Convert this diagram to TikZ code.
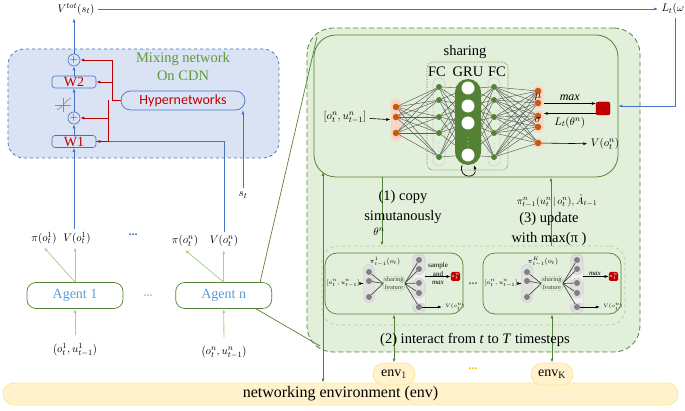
\documentclass[tikz,border=0pt]{standalone}
\usepackage{fontspec}
\setmainfont{Liberation Serif}
\newfontfamily\hypfont{Carlito}
\usetikzlibrary{arrows.meta,positioning}
\definecolor{mixblue}{HTML}{4472C4}
\definecolor{mixfill}{HTML}{DAE3F3}
\definecolor{dkgreen}{HTML}{548235}
\definecolor{ltgreen}{HTML}{A9D18E}
\definecolor{bggreen}{HTML}{E2EFDA}
\definecolor{hred}{HTML}{C00000}
\definecolor{envfill}{HTML}{FFF2CC}
\definecolor{envline}{HTML}{FFE699}
\definecolor{agtblue}{HTML}{5B9BD5}
\definecolor{mixtext}{HTML}{5E9A3C}
\definecolor{nodeor}{HTML}{C55A11}
\definecolor{nodepink}{HTML}{F8D5C0}
\definecolor{wire}{HTML}{595959}
\definecolor{dotor}{HTML}{FFC000}
\pgfdeclarelayer{back}
\pgfdeclarelayer{wires}
\pgfsetlayers{back,wires,main}
\newcommand{\fsz}[1]{\fontsize{#1}{#1}\selectfont}

\begin{document}
\begin{tikzpicture}[x=1pt,y=-1pt,>={Latex[length=4pt,width=3pt]},
  bl/.style={draw=mixblue,line width=0.6pt},
  hr/.style={draw=hred,line width=0.9pt},
  lg/.style={draw=ltgreen,line width=0.8pt},
  dg/.style={draw=dkgreen,line width=0.8pt},
  wr/.style={draw=wire,line width=0.45pt},
  wbox/.style={draw=mixblue,line width=0.6pt,rounded corners=3pt,minimum width=44pt,minimum height=12pt,inner sep=0pt,text=hred,font=\fsz{14}},
  plusc/.style={draw=mixblue,line width=0.6pt,circle,minimum size=12pt,inner sep=0pt,text=hred,font=\fsz{11}},
  agent/.style={draw=dkgreen,line width=0.7pt,rounded corners=9pt,minimum width=96pt,minimum height=26pt,text=agtblue,font=\fsz{14}},
  envbox/.style={draw=envline,fill=envfill,line width=0.8pt,rounded corners=11pt,minimum height=22pt,font=\fsz{16}},
  fccap/.style={draw=black!18,line width=0.6pt,rounded corners=6pt,minimum width=12pt,inner sep=0pt},
  pkcap/.style={draw=nodepink!60!white,fill=nodepink,rounded corners=4pt,minimum width=11pt,inner sep=0pt},
  gycap/.style={draw=black!22,fill=black!12,rounded corners=5pt,minimum width=11pt,inner sep=0pt},
  gnode/.style={circle,fill=dkgreen,minimum size=6pt,inner sep=0pt},
  onode/.style={circle,fill=nodeor,minimum size=6.5pt,inner sep=0pt},
  cnode/.style={circle,fill=white,minimum size=13pt,inner sep=0pt},
  snode/.style={circle,fill=black!50,minimum size=6pt,inner sep=0pt},
  lbl/.style={font=\fontsize{14.5}{20}\selectfont},
  ml/.style={font=\fsz{11}}]
\useasboundingbox (0,0) rectangle (685,411);
\begin{pgfonlayer}{back}
  \node[draw=mixblue,dashed,line width=0.8pt,fill=mixfill,rounded corners=16pt,minimum width=271pt,minimum height=109pt] (mix) at (143.5,103.5) {};
  \node[draw=dkgreen,dash pattern=on 5pt off 3pt,line width=0.8pt,fill=bggreen,rounded corners=26pt,minimum width=333pt,minimum height=324pt] (outer) at (473.5,190) {};
  \node[draw=dkgreen,line width=0.8pt,rounded corners=22pt,minimum width=304pt,minimum height=142pt] (up) at (466,106) {};
  \node[draw=ltgreen,dashed,line width=0.7pt,rounded corners=16pt,minimum width=303pt,minimum height=79pt] (low) at (473.5,285.5) {};
  \node[draw=dkgreen,line width=0.7pt,rounded corners=12pt,minimum width=138pt,minimum height=61pt] (sb1) at (394,283.5) {};
  \node[draw=dkgreen,line width=0.7pt,rounded corners=12pt,minimum width=138pt,minimum height=61pt] (sb2) at (552,283.5) {};
  \node[draw=dkgreen,densely dotted,line width=0.6pt,rounded corners=6pt,minimum width=81pt,minimum height=108pt] (shr) at (467.5,116) {};
  \node[pkcap,minimum height=42pt] (icap) at (396,120) {};
  \node[fccap,minimum height=88pt] (fcap) at (439,122) {};
  \node[fccap,minimum height=88pt] (hcap) at (494,122) {};
  \node[draw=black!20,densely dotted,rounded corners=5pt,minimum width=16pt,minimum height=66pt] (ocap) at (538,115) {};
  \node[pkcap,minimum height=22pt] (mucap) at (538,97) {};
  \node[pkcap,minimum height=22pt] (sgcap) at (538,121.5) {};
  \node[pkcap,minimum height=9pt] (vcap) at (538,143) {};
\end{pgfonlayer}

\node[ml] (vtot) at (76,9) {$V^{tot}(s_t)$};
\node[ml,anchor=west] (lt) at (658,9) {$L_t(\omega)$};
\node[plusc] (p2) at (74,60) {$+$};
\node[wbox] (w2) at (74,82) {W2};
\node[plusc] (p1) at (74,118) {$+$};
\node[wbox] (w1) at (74,141.5) {W1};
\node[draw=mixblue,line width=0.7pt,rounded corners=9.5pt,minimum width=124pt,minimum height=19pt,text=hred,font=\hypfont\fsz{14}] (hyp) at (183,100.5) {Hypernetworks};
\node[text=mixtext,align=center,font=\fontsize{14.5}{18}\selectfont] (mixt) at (183,67) {Mixing network\\On CDN};
\draw[black!45,line width=0.6pt] (55,105) -- (71,105) (63,98) -- (63,112);
\draw[black!45,line width=0.6pt] (57,110) .. controls (64,106) and (65,101) .. (71,98);
\node[ml] (st) at (243,195) {$s_t$};

\draw[bl,->] (p2) -- (p2 |- vtot.south);
\draw[bl,->] (w2) -- (p2);
\draw[bl,->] (p1) -- (w2);
\draw[bl,->] (w1) -- (p1);
\draw[bl,->] (vtot.east) -- (vtot.east -| lt.west);
\draw[bl,->] (lt.south) |- (up.east);
\draw[bl,->] (st.north) -- (st.north |- hyp.south);

\node[agent] (a1) at (75,295.5) {Agent 1};
\node[agent,right=52pt of a1] (an) {Agent n};
\node[text=ltgreen,font=\bfseries\fsz{12}] (adots) at (148,296) {...};
\node[ml] (pi1) at (44,238) {$\pi(o_t^1)$};
\node[ml] (v1) at (77,238) {$V(o_t^1)$};
\node[ml] (pin) at (185,241) {$\pi(o_t^n)$};
\node[ml] (vn) at (224,241) {$V(o_t^n)$};
\node[text=mixblue,font=\bfseries\fsz{12}] (pdots) at (133,235) {...};
\node[ml] (in1) at (75,350) {$\left(o_t^1,u_{t-1}^1\right)$};
\node[ml] (inn) at (224,352) {$\left(o_t^n,u_{t-1}^n\right)$};

\draw[bl,->] (w1 |- v1.north) -- (w1);
\draw[bl] (vn.north) |- (w1.east);
\coordinate (hb) at (112,100.5);
\coordinate (hc) at (108,100.5);
\draw[hr] (hyp) -- (hb);
\draw[hr,->] (hb) |- (p2);
\draw[hr,->] (hb |- w2) -- (w2);
\draw[hr,->] (hc) |- (p1);
\draw[hr,->] (hc) |- (w1);

\draw[lg,->] (a1.north) -- (a1.north |- v1.south);
\draw[lg,->] (a1.north) -- (pi1.south);
\draw[lg,->] (an.north) -- (an.north |- vn.south);
\draw[lg,->] (an.north) -- (pin.south);
\draw[lg,->,shorten <=5pt] (in1) -- (a1);
\draw[lg,->,shorten <=5pt] (inn) -- (an);

\coordinate (c1) at (317,37);
\coordinate (c2) at (320,346);
\draw[dg,line width=0.7pt] ([xshift=-12pt]an.north east) -- (c1);
\draw[dg,line width=0.7pt] ([xshift=-16pt]an.south east) -- (c2);

\node[ml] (xin) at (345,117) {$[o_t^n,u_{t-1}^n]$};
\foreach \y [count=\i] in {107,117,133} \node[onode] (ni\i) at (396,\y) {};
\foreach \y [count=\i] in {87,100,117,133,157} {
  \node[gnode] (nf\i) at (439,\y) {};
  \node[gnode] (nh\i) at (494,\y) {};
}
\node[fill=dkgreen,rounded corners=13pt,minimum width=26pt,minimum height=86pt] (gcap) at (468,122) {};
\foreach \y [count=\i] in {88,106,123,155} \node[cnode] (ng\i) at (468,\y) {};
\foreach \y [count=\i] in {91,103,116,127,143} \node[onode] (no\i) at (538,\y) {};
\node[font=\fsz{7},text=black!40] (fdots) at (439,145) {$\vdots$};
\node[font=\fsz{7},text=black!40] (hdots) at (494,145) {$\vdots$};
\node[font=\fsz{7},text=white] (gdots) at (468,139) {$\vdots$};
\node[font=\fsz{11}] (mu) at (538,97) {$\mu$};
\node[font=\fsz{11}] (sg) at (538,120) {$\sigma$};
\draw[->,line width=0.7pt] ([xshift=-6pt]gcap.south) .. controls +(-4,14) and +(4,14) .. ([xshift=6pt]gcap.south);

\begin{pgfonlayer}{wires}
  \foreach \a in {1,2,3} \foreach \b in {1,...,5} \draw[wr] (ni\a) -- (nf\b);
  \foreach \a in {1,...,5} \foreach \b in {1,...,4} {\draw[wr] (nf\a) -- (ng\b); \draw[wr] (ng\b) -- (nh\a);}
  \foreach \a in {1,...,5} \foreach \b in {1,...,5} \draw[wr] (nh\a) -- (no\b);
\end{pgfonlayer}

\node[lbl] (shtxt) at (465,52) {sharing};
\node[lbl] (fca) at (437,72) {FC};
\node[lbl] (grut) at (468,72) {GRU};
\node[lbl] (fcb) at (497,72) {FC};

\node[fill=hred,draw=hred!85!black,rounded corners=2pt,minimum width=14pt,minimum height=13pt,inner sep=0pt] (rb) at (603,108.5) {};
\draw[->,line width=0.6pt] ([yshift=5pt]rb.west -| mucap.east) -- ([yshift=5pt]rb.west) node[midway,above=-1pt,font=\itshape\fsz{12}] {max};
\draw[->,line width=0.6pt] ([yshift=-5pt]rb.west) -- ([yshift=-5pt]rb.west -| sgcap.east) node[midway,below,font=\fsz{11}] {$L_t(\theta^n)$};
\node[ml] (vo) at (605,144) {$V(o_t^n)$};
\draw[->,line width=0.6pt] (no5) -- (vo);
\draw[->,line width=0.6pt] (xin) -- (icap);

\foreach \k/\sx/\pk in {1/394/1,2/552/K} {
  \begin{scope}[shift={(\sx,283.5)}]
    \begin{pgfonlayer}{back}
      \node[gycap,minimum height=38pt] (sbc\k) at (-25,0) {};
      \node[gycap,fill=black!6,minimum width=13pt,minimum height=58pt] (sbo\k) at (25,0) {};
      \node[gycap,minimum height=20pt] (sbqa\k) at (25,-19) {};
      \node[gycap,minimum height=20pt] (sbqb\k) at (25,4.5) {};
      \node[gycap,minimum height=8pt,rounded corners=3pt] (sbqc\k) at (25,23.5) {};
    \end{pgfonlayer}
    \node[font=\fsz{7}] (sbt\k) at (-9,-22) {$\pi_{t-1}^{\pk}(o_t)$};
    \node[font=\fsz{6.5}] (sbx\k) at (-51,0) {$[o_t^n,u_{t-1}^n]$};
    \foreach \y [count=\j] in {-11.5,-2.5,13.5} \node[snode] (sbl\k\j) at (-25,\y) {};
    \foreach \y [count=\j] in {-23.5,-14.5,-0.5,9.5,23.5} \node[snode] (sbn\k\j) at (25,\y) {};
    \node[draw=dkgreen,densely dotted,fill=bggreen,rounded corners=3pt,inner sep=1pt,align=center,font=\fontsize{6.5}{7.5}\selectfont,text=black!75] (sbf\k) at (0,0) {sharing\\feature};
    \node[fill=hred,rounded corners=1.5pt,minimum width=9pt,minimum height=9pt,inner sep=0pt,text=white,font=\fsz{4}] (sbr\k) at (61.5,-7) {$u_t^n$};
    \node[font=\fsz{4.5}] (sbv\k) at (61,23.5) {$V(o_t^n)$};
    \draw[->,line width=0.6pt] ([xshift=-26pt]sbr\k.west) -- (sbr\k);
    \draw[->,line width=0.6pt] (sbn\k5) -- (sbv\k);
    \draw[->,line width=0.6pt] (sbx\k) -- (sbc\k);
    \begin{pgfonlayer}{wires}
      \foreach \j in {1,2,3} \draw[line width=0.7pt,black!70] (sbl\k\j) -- (sbf\k.west);
      \foreach \j in {1,...,5} \draw[line width=0.7pt,black!70] (sbf\k.east) -- (sbn\k\j);
    \end{pgfonlayer}
  \end{scope}
}
\node[font=\fontsize{7}{8.5}\selectfont,align=center] (smp) at (438,274) {sample\\and\\\textit{max}};
\node[font=\itshape\fsz{7}] (mxk) at (595,274) {max};
\node[text=dkgreen,font=\bfseries\fsz{12}] (sdots) at (473,284) {...};

\node[envbox,minimum width=675pt] (env) at (340.5,394) {networking environment (env)};
\node[envbox,minimum width=42pt,inner sep=0pt,font=\fsz{14}] (e1) at (394,374) {env$_1$};
\node[envbox,minimum width=42pt,inner sep=0pt,font=\fsz{14}] (ek) at (552,374) {env$_{\mathrm{K}}$};
\node[text=dotor,font=\bfseries\fsz{12}] (edots) at (473,369) {...};

\draw[dg,->] ([xshift=-84pt]up.south) -- ([xshift=-84pt]up.south |- low.north);
\draw[dg,->] ([xshift=85pt]up.south |- low.north) -- ([xshift=85pt]up.south);
\coordinate (lu) at (323,172);
\draw[dg,<->] (env.north -| lu) -- (lu);
\draw[dg,<->] (sb1) -- (e1);
\draw[dg,<->] (sb2) -- (ek);

\node[lbl,align=center] (cpy) at (403,207) {(1) copy\\simutanously};
\node[ml] (th) at (379,232) {$\theta^n$};
\node[font=\fsz{10}] (pol) at (557,201) {$\pi_{t-1}^{n}(u_t^n\,|\,o_t^n),\hat{A}_{t-1}$};
\node[lbl,align=center] (upd) at (549,229) {(3) update\\with max(π )};
\node[lbl] (itr) at (475,340) {(2) interact from \textit{t} to \textit{T} timesteps};
\end{tikzpicture}
\end{document}
